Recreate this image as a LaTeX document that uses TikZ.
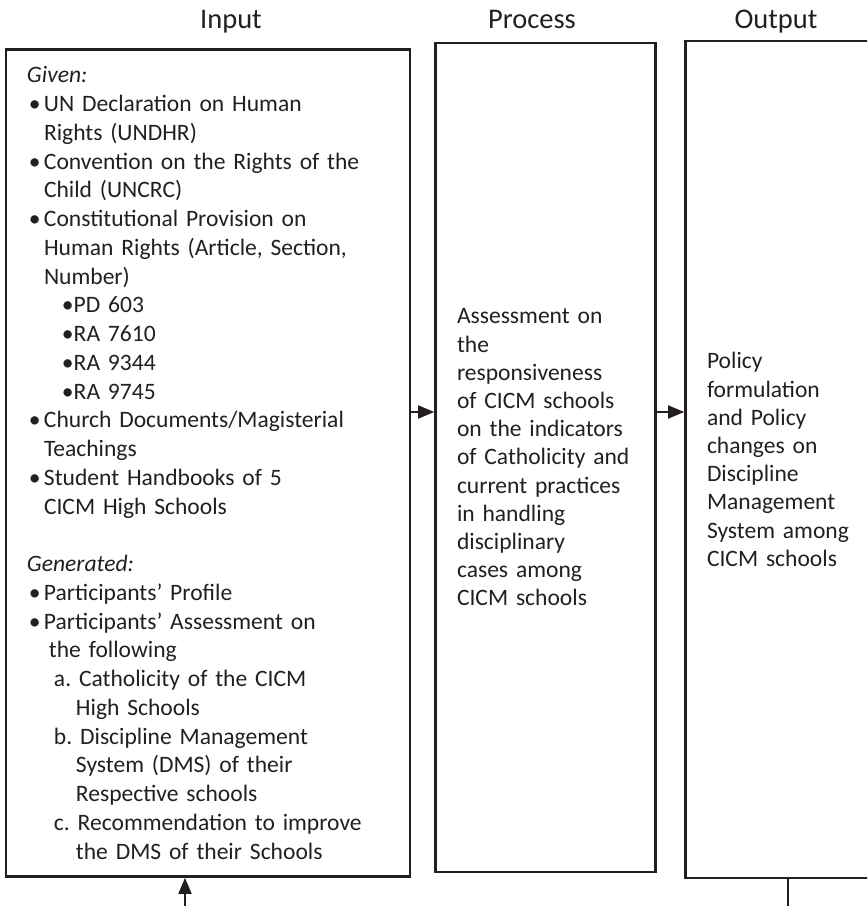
\documentclass[tikz,border=0pt]{standalone}
\usepackage{fontspec}
\setmainfont{Carlito}
\usepackage{tikz}
\usetikzlibrary{arrows.meta, positioning, calc}
\frenchspacing

\definecolor{ink}{HTML}{231F20}
\newcommand{\itm}{\makebox[0.34cm][l]{\hspace{0.04cm}\textbullet}}
\newcommand{\cnt}{\hspace*{0.34cm}}
\newcommand{\subitm}{\hspace*{0.7cm}\textbullet}

\begin{document}
\begin{tikzpicture}[
    head/.style={font=\fontsize{16.2}{19}\selectfont, text=ink, anchor=base},
    stage/.style={draw=ink, line width=1.5pt, text=ink, align=left, inner xsep=0.42cm, font=\fontsize{13.4}{16.05}\selectfont},
    arrow/.style={-{Triangle[length=0.32cm, width=0.26cm]}, draw=ink, line width=1pt},
    link/.style={draw=ink, line width=1pt}
]
    \useasboundingbox (0,0) rectangle (17.34,18.12);
    \clip (0,0) rectangle (17.34,18.12);

    % Headings
    \node[head] (hin) at (4.62, 17.554) {Input};
    \node[head] (hproc) at (10.64, 17.554) {Process};
    \node[head] (hout) at (15.52, 17.554) {Output};

    % Input
    \node[stage, minimum width=8.08cm, minimum height=16.54cm, text width=7.24cm,
          font=\fontsize{13.4}{16.36}\selectfont] (input) at (4.16, 8.86) {%
        \textit{Given:}\\
        \itm UN Declaration on Human\\
        \cnt Rights (UNDHR)\\
        \itm Convention on the Rights of the\\
        \cnt Child (UNCRC)\\
        \itm Constitutional Provision on\\
        \cnt Human Rights (Article, Section,\\
        \cnt Number)\\
        \subitm PD 603\\
        \subitm RA 7610\\
        \subitm RA 9344\\
        \subitm RA 9745\\
        \itm Church Documents/Magisterial\\
        \cnt Teachings\\
        \itm Student Handbooks of 5\\
        \cnt CICM High Schools\\[16.36pt]
        \textit{Generated:}\\
        \itm Participants' Profile\\
        \itm Participants' Assessment on\\
        \hspace*{0.44cm}the following\\
        \hspace*{0.54cm}a. Catholicity of the CICM\\
        \hspace*{0.98cm}High Schools\\
        \hspace*{0.54cm}b. Discipline Management\\
        \hspace*{0.98cm}System (DMS) of their\\
        \hspace*{0.98cm}Respective schools\\
        \hspace*{0.54cm}c. Recommendation to improve\\
        \hspace*{0.98cm}the DMS of their Schools};

    % Process
    \node[stage, minimum width=4.4cm, minimum height=16.58cm, text width=3.54cm] (process) at (10.91, 8.97) {%
        Assessment on\\the\\responsiveness\\of CICM schools\\on the indicators\\of Catholicity and\\current practices\\in handling\\disciplinary\\cases among\\CICM schools};

    % Output
    \node[stage, minimum width=4.4cm, minimum height=16.74cm, text width=3.54cm] (output) at (15.91, 8.93) {%
        Policy\\formulation\\and Policy\\changes on\\Discipline\\Management\\System among\\CICM schools};

    % Flow
    \draw[arrow] (input.east |- 0,9.88) -- (process.west |- 0,9.88);
    \draw[arrow] (process.east |- 0,9.88) -- (output.west |- 0,9.88);

    % Feedback ends
    \coordinate (fbin) at (3.70, 0);
    \coordinate (fbout) at (15.76, 0);
    \draw[arrow] (fbin) -- (input.south -| fbin);
    \draw[link] (output.south -| fbout) -- (fbout);
\end{tikzpicture}
\end{document}
